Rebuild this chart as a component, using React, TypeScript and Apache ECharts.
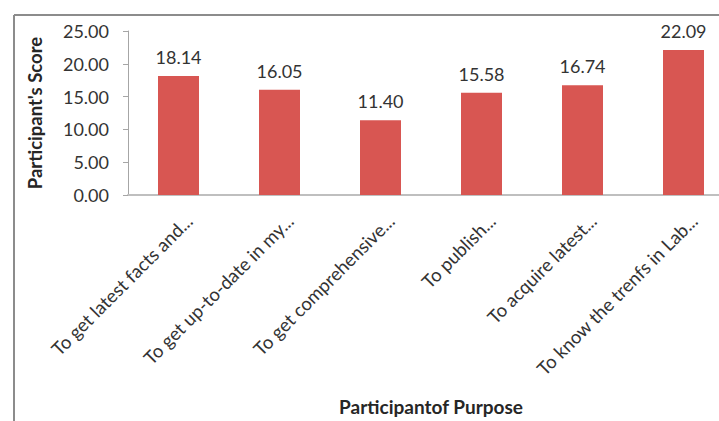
import React, { useEffect, useRef } from "react";
import * as echarts from "echarts";

const categories = [
  "To get latest facts and...",
  "To get up-to-date in my...",
  "To get comprehensive...",
  "To publish...",
  "To acquire latest...",
  "To know the trenfs in Lab...",
];
const scores = [18.14, 16.05, 11.4, 15.58, 16.74, 22.09];
const yTicks = { min: 0, max: 25, interval: 5 };

const FONT = "Lato";
const TEXT = "#333333";

export default function App() {
  const ref = useRef<HTMLDivElement>(null);
  useEffect(() => {
    if (!ref.current) return;
    const chart = echarts.init(ref.current, undefined, { renderer: "svg" });
    chart.setOption({
      animation: false,
      backgroundColor: "#ffffff",
      textStyle: { fontFamily: FONT },
      grid: {
        left: 128,
        top: 31,
        width: 606,
        height: 164,
        containLabel: false,
        outerBoundsMode: "none",
      },
      graphic: [
        {
          type: "line",
          shape: { x1: 14, y1: 15, x2: 719, y2: 15 },
          style: { stroke: "#8c8c8c", lineWidth: 2 },
        },
        {
          type: "line",
          shape: { x1: 14, y1: 15, x2: 14, y2: 421 },
          style: { stroke: "#8c8c8c", lineWidth: 2 },
        },
      ],
      xAxis: {
        type: "category",
        data: categories,
        axisLine: { lineStyle: { color: "#bfbfbf", width: 2 } },
        axisTick: { show: false },
        axisLabel: {
          interval: 0,
          rotate: 45,
          color: TEXT,
          fontFamily: FONT,
          fontSize: 18.5,
          margin: 12,
          verticalAlign: "top",
          lineHeight: 30,
        },
        name: "Participantof Purpose",
        nameLocation: "middle",
        nameGap: 202,
        nameTextStyle: { color: "#262626", fontWeight: "bold", fontSize: 19, fontFamily: FONT },
      },
      yAxis: {
        type: "value",
        min: yTicks.min,
        max: yTicks.max,
        interval: yTicks.interval,
        splitLine: { show: false },
        axisLine: { show: true, lineStyle: { color: "#a6a6a6", width: 1 } },
        axisTick: { show: true, length: 5, lineStyle: { color: "#a6a6a6" } },
        axisLabel: {
          color: TEXT,
          fontFamily: FONT,
          fontSize: 18,
          margin: 19,
          formatter: (v: number) => v.toFixed(2),
        },
        name: "Participant's Score",
        nameLocation: "middle",
        nameGap: 84,
        nameRotate: 90,
        nameTextStyle: { color: "#262626", fontWeight: "bold", fontSize: 18.5, fontFamily: FONT },
      },
      series: [
        {
          type: "bar",
          data: scores,
          barWidth: 41,
          itemStyle: { color: "#d85652" },
          label: {
            show: true,
            position: "top",
            distance: 10,
            color: TEXT,
            fontFamily: FONT,
            fontSize: 18,
            formatter: (p: any) => Number(p.value).toFixed(2),
          },
        },
      ],
    });
    return () => chart.dispose();
  }, []);
  return (
    <div
      ref={ref}
      style={{ position: "fixed", left: 0, top: 0, width: 719, height: 421 }}
    />
  );
}
